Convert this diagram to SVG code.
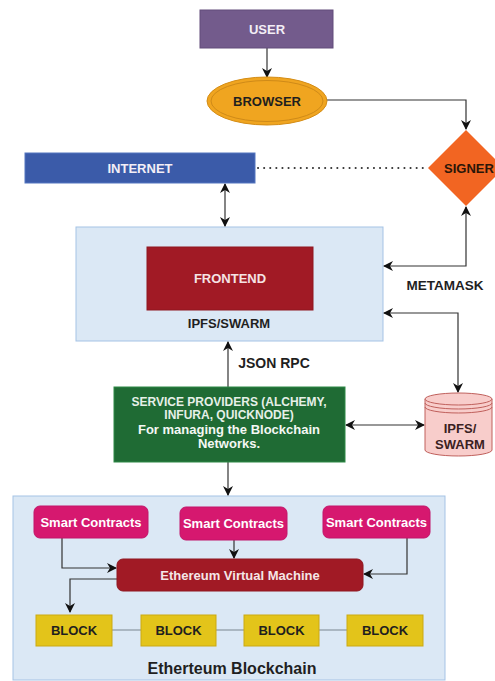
<svg xmlns="http://www.w3.org/2000/svg" width="495" height="681" viewBox="0 0 495 681">
  <defs>
    <marker id="arr" viewBox="0 0 10 10" refX="9" refY="5" markerWidth="10" markerHeight="10" markerUnits="userSpaceOnUse" orient="auto-start-reverse">
      <path d="M0,0 L10,5 L0,10 L3,5 z" fill="#111"/>
    </marker>
  </defs>
  <style>
    text { font-family: "Liberation Sans", Arial, sans-serif; font-weight: bold; text-anchor: middle; dominant-baseline: central; }
    .lt { fill: #f3eef6; font-size: 13px; }
    .dk { fill: #1f1f1f; font-size: 13px; }
    .edge { fill: none; stroke: #333; stroke-width: 1.2; }
    .panel { fill: #dbe8f5; stroke: #a5c3e5; stroke-width: 1; }
    .sc { fill: #d6186f; stroke: #c2156a; stroke-width: 1; }
    .block { fill: #e3c41a; stroke: #cba912; stroke-width: 1; }
  </style>

  <!-- containers -->
  <g id="ipfs-host">
    <rect class="panel" x="76" y="227" width="307" height="114"/>
    <text class="dk" x="229" y="323">IPFS/SWARM</text>
  </g>
  <g id="blockchain">
    <rect class="panel" x="13" y="496" width="432" height="184"/>
    <text class="dk" x="232" y="668" style="font-size:16px">Etherteum Blockchain</text>
  </g>

  <!-- connectors -->
  <g id="connectors">
    <path class="edge" d="M267,48 V77" marker-end="url(#arr)"/>
    <path class="edge" d="M327,100 H466 V129" marker-end="url(#arr)"/>
    <path d="M258,168 H428" fill="none" stroke="#333" stroke-width="2" stroke-dasharray="0.1 6" stroke-linecap="round"/>
    <path class="edge" d="M225,184 V226" marker-start="url(#arr)" marker-end="url(#arr)"/>
    <path class="edge" d="M466,207 V266 H384" marker-start="url(#arr)" marker-end="url(#arr)"/>
    <path class="edge" d="M384,313 H458 V392" marker-start="url(#arr)" marker-end="url(#arr)"/>
    <path class="edge" d="M228,387 V342" marker-end="url(#arr)"/>
    <path class="edge" d="M346,425 H424" marker-start="url(#arr)" marker-end="url(#arr)"/>
    <path class="edge" d="M228,462 V495" marker-end="url(#arr)"/>
    <path class="edge" d="M62,538 V568 H116" marker-end="url(#arr)"/>
    <path class="edge" d="M234,540 V558" marker-end="url(#arr)"/>
    <path class="edge" d="M407,538 V574 H364" marker-end="url(#arr)"/>
    <path class="edge" d="M117,579 H70 V612" marker-end="url(#arr)"/>
    <path d="M112,630 H141 M216,630 H244 M319,630 H347" fill="none" stroke="#7a8590" stroke-width="1.2"/>
  </g>

  <!-- nodes -->
  <g id="user">
    <rect x="200" y="10" width="133" height="38" fill="#735b8c" stroke="#634d7a"/>
    <text class="lt" x="267" y="29">USER</text>
  </g>
  <g id="browser">
    <ellipse cx="267" cy="101" rx="60" ry="24" fill="#f0a520" stroke="#d48c14" stroke-width="1"/>
    <ellipse cx="267" cy="101" rx="56" ry="20.5" fill="none" stroke="#cf8a18" stroke-width="1"/>
    <text class="dk" x="267" y="101">BROWSER</text>
  </g>
  <g id="signer">
    <polygon points="466,130 504,168 466,206 428,168" fill="#f26522"/>
    <text class="dk" x="469" y="168" style="fill:#2a1608">SIGNER</text>
  </g>
  <g id="internet">
    <rect x="25" y="153" width="230" height="30" fill="#3b5ba9" stroke="#5577c0" stroke-width="1"/>
    <text class="lt" x="140" y="168">INTERNET</text>
  </g>
  <g id="frontend">
    <rect x="147" y="247" width="166" height="63" fill="#a11a25" stroke="#8f1620" stroke-width="1"/>
    <text class="lt" x="230" y="278" style="fill:#f5e3e4">FRONTEND</text>
  </g>
  <g id="metamask-label">
    <text class="dk" x="445" y="285" style="font-size:13.5px">METAMASK</text>
  </g>
  <g id="json-rpc-label">
    <text class="dk" x="274" y="363" style="font-size:14px">JSON RPC</text>
  </g>
  <g id="service-providers">
    <rect x="114" y="387" width="231" height="75" fill="#1f6b34" stroke="#2e8a46" stroke-width="1"/>
    <text class="lt" x="229" y="402" style="font-size:12px;fill:#e6f0e8">SERVICE PROVIDERS (ALCHEMY,</text>
    <text class="lt" x="229" y="415" style="font-size:12px;fill:#e6f0e8">INFURA, QUICKNODE)</text>
    <text class="lt" x="229" y="429" style="fill:#f4f8f4">For managing the Blockchain</text>
    <text class="lt" x="229" y="443" style="fill:#f4f8f4">Networks.</text>
  </g>
  <g id="ipfs-store">
    <path d="M425,399 V450 A33.5,6 0 0 0 492,450 V399" fill="#f8cdcb" stroke="#c0605c" stroke-width="1"/>
    <ellipse cx="458.5" cy="399" rx="33.5" ry="6" fill="#f8cdcb" stroke="#c0605c" stroke-width="1"/>
    <path d="M425,403 A33.5,6 0 0 0 492,403 M425,407 A33.5,6 0 0 0 492,407" fill="none" stroke="#c0605c" stroke-width="1"/>
    <text class="dk" x="460" y="428" style="fill:#3a2222">IPFS/</text>
    <text class="dk" x="460" y="444" style="fill:#3a2222">SWARM</text>
  </g>
  <g id="smart-contracts-1">
    <rect class="sc" x="34" y="506" width="114" height="32" rx="6"/>
    <text class="lt" x="91" y="522" style="fill:#fff">Smart Contracts</text>
  </g>
  <g id="smart-contracts-2">
    <rect class="sc" x="180" y="507" width="107" height="33" rx="6"/>
    <text class="lt" x="233.5" y="523" style="fill:#fff">Smart Contracts</text>
  </g>
  <g id="smart-contracts-3">
    <rect class="sc" x="323" y="506" width="107" height="32" rx="6"/>
    <text class="lt" x="376.5" y="522" style="fill:#fff">Smart Contracts</text>
  </g>
  <g id="evm">
    <rect x="117" y="559" width="246" height="32" rx="6" fill="#a11a25" stroke="#8f1620" stroke-width="1"/>
    <text class="lt" x="240" y="575" style="fill:#f5e6e7">Ethereum Virtual Machine</text>
  </g>
  <g id="block-1">
    <rect class="block" x="36" y="615" width="76" height="31"/>
    <text class="dk" x="74" y="630.5">BLOCK</text>
  </g>
  <g id="block-2">
    <rect class="block" x="141" y="615" width="75" height="31"/>
    <text class="dk" x="178.5" y="630.5">BLOCK</text>
  </g>
  <g id="block-3">
    <rect class="block" x="244" y="615" width="75" height="31"/>
    <text class="dk" x="281.5" y="630.5">BLOCK</text>
  </g>
  <g id="block-4">
    <rect class="block" x="347" y="615" width="76" height="31"/>
    <text class="dk" x="385" y="630.5">BLOCK</text>
  </g>
</svg>
